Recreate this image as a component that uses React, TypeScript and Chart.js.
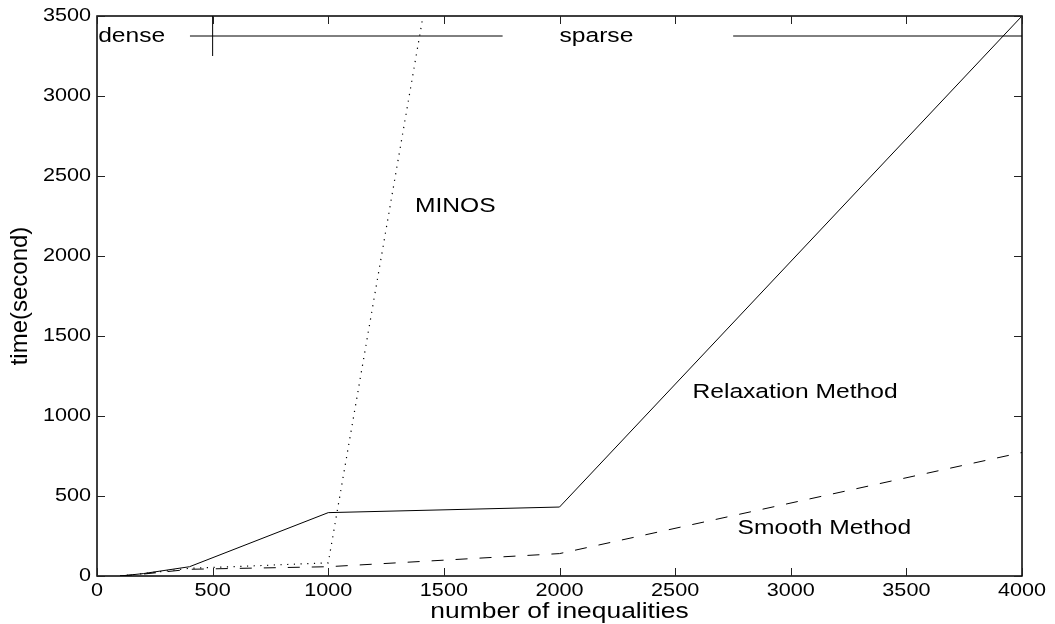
import React, { useEffect, useRef } from 'react';
import { Chart, registerables } from 'chart.js';

Chart.register(...registerables);

// ---- data ----
const inequalities = [100, 200, 400, 1000, 2000, 4000];
const relaxationTimes = [0, 15, 58, 396, 431, 3500];
const smoothTimes = [0, 12, 42, 58, 140, 772];
const minosInequalities = [100, 200, 400, 1000, 1410];
const minosTimes = [0, 15, 48, 82, 3500];

const xTickValues = [0, 500, 1000, 1500, 2000, 2500, 3000, 3500, 4000];
const yTickValues = [0, 500, 1000, 1500, 2000, 2500, 3000, 3500];

// dense / sparse regime marker
const regimeLevel = 3375;
const denseBoundary = 500;
const denseMarkBottom = 3250;
const regimeLeftSeg = [402, 1754];
const regimeRightSeg = [2751, 4000];

const labelTexts = ['dense', 'sparse', 'MINOS', 'Relaxation Method', 'Smooth Method'];
const labelX = [5, 2000, 1375, 2575, 2770];
const labelY = [3370, 3370, 2310, 1150, 300];

const xTitle = 'number of inequalities';
const yTitle = 'time(second)';

const FONT_FAMILY = '"Liberation Sans", Arial, Helvetica, sans-serif';
const SX = 1.2; // horizontal stretch of the original picture

function stretchedText(
  ctx: CanvasRenderingContext2D,
  text: string,
  x: number,
  y: number,
  size: number,
  align: CanvasTextAlign,
  baseline: CanvasTextBaseline,
  rotate = false,
  sx = SX
) {
  ctx.save();
  ctx.translate(x, y);
  ctx.scale(sx, 1);
  if (rotate) ctx.rotate(-Math.PI / 2);
  ctx.font = `${size}px ${FONT_FAMILY}`;
  ctx.textAlign = align;
  ctx.textBaseline = baseline;
  ctx.fillStyle = '#000';
  ctx.fillText(text, 0, 0);
  ctx.restore();
}

const framePlugin = {
  id: 'matlabFrame',
  afterDraw(chart: any) {
    const ctx: CanvasRenderingContext2D = chart.ctx;
    const { left, right, top, bottom } = chart.chartArea;
    const xs = chart.scales.x;
    const ys = chart.scales.y;
    const tickLen = 8;

    ctx.save();
    // frame
    ctx.strokeStyle = '#000';
    ctx.lineWidth = 1.5;
    ctx.strokeRect(left, top, right - left, bottom - top);

    // inward ticks
    ctx.lineWidth = 1;
    ctx.strokeStyle = '#222';
    ctx.beginPath();
    xTickValues.forEach((v) => {
      const px = Math.round(xs.getPixelForValue(v)) + 0.5;
      ctx.moveTo(px, bottom);
      ctx.lineTo(px, bottom - tickLen);
      ctx.moveTo(px, top);
      ctx.lineTo(px, top + tickLen);
    });
    yTickValues.forEach((v) => {
      const py = Math.round(ys.getPixelForValue(v)) + 0.5;
      ctx.moveTo(left, py);
      ctx.lineTo(left + tickLen, py);
      ctx.moveTo(right, py);
      ctx.lineTo(right - tickLen, py);
    });
    ctx.stroke();
    ctx.restore();

    // tick labels
    xTickValues.forEach((v) => {
      stretchedText(ctx, String(v), xs.getPixelForValue(v), bottom + 15, 18, 'center', 'middle');
    });
    yTickValues.forEach((v) => {
      stretchedText(ctx, String(v), left - 6, ys.getPixelForValue(v), 18, 'right', 'middle');
    });

    // axis titles
    stretchedText(ctx, xTitle, (left + right) / 2, bottom + 36, 22, 'center', 'middle');
    stretchedText(ctx, yTitle, 20, (top + bottom) / 2, 24, 'center', 'middle', true, 1);

    // in-plot annotations
    labelTexts.forEach((t, i) => {
      stretchedText(
        ctx,
        t,
        xs.getPixelForValue(labelX[i]),
        ys.getPixelForValue(labelY[i]),
        20.5,
        'left',
        'middle'
      );
    });
  },
};

export default function App() {
  const canvasRef = useRef<HTMLCanvasElement | null>(null);

  useEffect(() => {
    document.body.style.margin = '0';
    const canvas = canvasRef.current;
    if (!canvas) return;

    const pts = (xs: number[], ys: number[]) => xs.map((x, i) => ({ x, y: ys[i] }));
    const thin = {
      borderColor: '#000',
      borderWidth: 1,
      pointRadius: 0,
      fill: false,
      tension: 0,
    };

    const chart = new Chart(canvas, {
      type: 'line',
      data: {
        datasets: [
          {
            ...thin,
            label: 'MINOS',
            data: pts(minosInequalities, minosTimes),
            borderWidth: 1.2,
            borderDash: [1.2, 5.5],
          },
          {
            ...thin,
            label: 'Relaxation Method',
            data: pts(inequalities, relaxationTimes),
          },
          {
            ...thin,
            label: 'Smooth Method',
            data: pts(inequalities, smoothTimes),
            borderDash: [12, 12],
          },
          {
            ...thin,
            label: 'dense-left',
            data: pts(regimeLeftSeg, [regimeLevel, regimeLevel]),
          },
          {
            ...thin,
            label: 'sparse-right',
            data: pts(regimeRightSeg, [regimeLevel, regimeLevel]),
          },
          {
            ...thin,
            label: 'dense-boundary',
            data: pts([denseBoundary, denseBoundary], [denseMarkBottom, 3500]),
          },
        ],
      },
      options: {
        animation: false,
        responsive: false,
        devicePixelRatio: 1,
        layout: { padding: { left: 97, right: 33, top: 16, bottom: 48 } },
        plugins: {
          legend: { display: false },
          tooltip: { enabled: false },
        },
        scales: {
          x: {
            type: 'linear',
            min: 0,
            max: 4000,
            ticks: { display: false, stepSize: 500 },
            grid: { display: false, drawTicks: false },
            border: { display: false },
            afterFit: (s: any) => {
              s.height = 0;
            },
          },
          y: {
            type: 'linear',
            min: 0,
            max: 3500,
            ticks: { display: false, stepSize: 500 },
            grid: { display: false, drawTicks: false },
            border: { display: false },
            afterFit: (s: any) => {
              s.width = 0;
            },
          },
        },
      },
      plugins: [framePlugin],
    });

    return () => chart.destroy();
  }, []);

  return (
    <div style={{ position: 'absolute', left: 0, top: 0, width: 1055, height: 624, background: '#fff' }}>
      <canvas ref={canvasRef} width={1055} height={624} style={{ display: 'block' }} />
    </div>
  );
}
